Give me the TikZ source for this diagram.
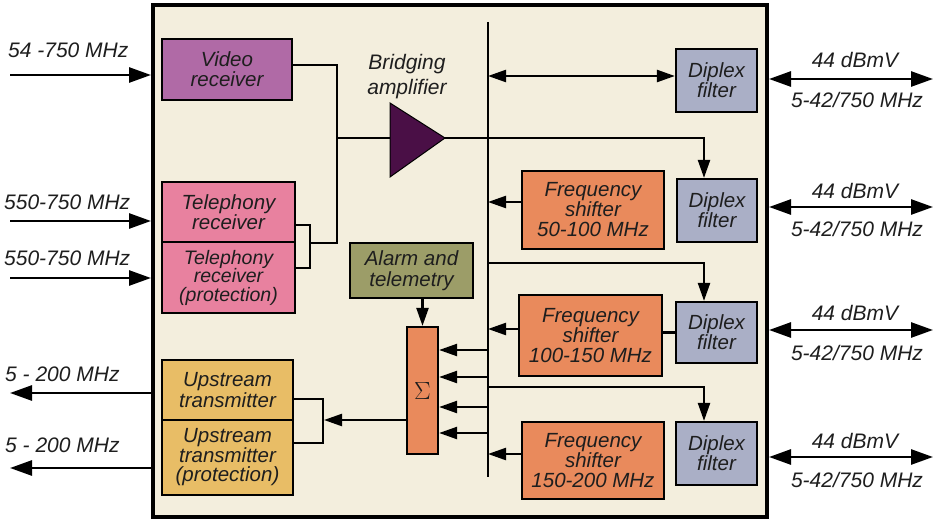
\documentclass[tikz,border=0pt]{standalone}
\usepackage{fontspec}
\setmainfont{Liberation Sans}
\usetikzlibrary{arrows.meta,calc}
\definecolor{cream}{HTML}{F3EEDD}
\definecolor{videoc}{HTML}{B06AA6}
\definecolor{telc}{HTML}{E8819F}
\definecolor{alarmc}{HTML}{9C9D68}
\definecolor{orangec}{HTML}{E98A5C}
\definecolor{upc}{HTML}{E8BD66}
\definecolor{diplexc}{HTML}{AAAFC6}
\definecolor{ampc}{HTML}{4A0F46}
\definecolor{txt}{HTML}{1E1E1E}
\begin{document}
\begin{tikzpicture}[x=1pt,y=-1pt,
  box/.style={draw=black,line width=2.2pt,inner sep=0pt,align=center,text=txt,
    font=\fontsize{20.5}{20}\selectfont\itshape},
  tight/.style={font=\fontsize{19.5}{18.5}\selectfont\itshape},
  lbl/.style={font=\fontsize{21}{21}\selectfont\itshape,text=txt,inner sep=0pt},
  wire/.style={line width=2.3pt},
  arr/.style={wire,-{Triangle[length=18pt,width=12pt]}},
  darr/.style={wire,{Triangle[length=18pt,width=12pt]}-{Triangle[length=18pt,width=12pt]}},
  oarr/.style={line width=2.7pt,-{Triangle[length=22pt,width=15pt]}},
  odarr/.style={line width=2.7pt,{Triangle[length=22pt,width=15pt]}-{Triangle[length=22pt,width=15pt]}}]
\useasboundingbox (0,0) rectangle (935,519);
\fill[white] (0,0) rectangle (935,519);
% frame
\node[draw=black,line width=4pt,fill=cream,minimum width=614pt,minimum height=512pt,inner sep=0pt] (frame) at (460,261) {};
% boxes
\node[box,fill=videoc,minimum width=130pt,minimum height=61pt] (video) at (227,69.5) {Video\\receiver};
\node[box,fill=telc,minimum width=133pt,minimum height=60pt,font=\fontsize{20.5}{19}\selectfont\itshape] (tel1) at (228.5,212) {Telephony\\receiver};
\node[box,tight,fill=telc,minimum width=133pt,minimum height=71pt] (tel2) at (228.5,277.5) {Telephony\\receiver\\(protection)};
\node[box,fill=upc,minimum width=131pt,minimum height=60pt,font=\fontsize{20.5}{18}\selectfont\itshape] (up1) at (227.5,390) {Upstream\\transmitter};
\node[box,fill=upc,minimum width=131pt,minimum height=75pt,font=\fontsize{20.5}{19.5}\selectfont\itshape] (up2) at (227.5,457.5) {Upstream\\transmitter\\(protection)};
\node[box,fill=alarmc,minimum width=123pt,minimum height=55pt,font=\fontsize{20.5}{21}\selectfont\itshape] (alarm) at (411.5,270.5) {Alarm and\\telemetry};
\node[box,fill=orangec,minimum width=31pt,minimum height=127pt,font=\fontsize{24}{24}\selectfont] (sigma) at (422.5,390.5) {$\Sigma$};
\node[box,fill=orangec,minimum width=142pt,minimum height=78pt] (fs1) at (593,210) {Frequency\\shifter\\50-100 MHz};
\node[box,fill=orangec,minimum width=143pt,minimum height=81pt] (fs2) at (590.5,335.5) {Frequency\\shifter\\100-150 MHz};
\node[box,fill=orangec,minimum width=142pt,minimum height=77pt] (fs3) at (593,460.5) {Frequency\\shifter\\150-200 MHz};
\node[box,fill=diplexc,minimum width=81pt,minimum height=63pt] (d1) at (716.5,80.5) {Diplex\\filter};
\node[box,fill=diplexc,minimum width=80pt,minimum height=63pt] (d2) at (717,210.5) {Diplex\\filter};
\node[box,fill=diplexc,minimum width=81pt,minimum height=61pt] (d3) at (716.5,332.5) {Diplex\\filter};
\node[box,fill=diplexc,minimum width=81pt,minimum height=63pt] (d4) at (716.5,453.5) {Diplex\\filter};
% amplifier
\coordinate (ampin) at (390,138);
\coordinate (ampout) at (445,138);
\fill[ampc,draw=black,line width=1pt,line join=miter] (390,103) -- (ampout) -- (390,177) -- cycle;
\node[lbl,align=center,font=\fontsize{21}{25}\selectfont\itshape] (amplbl) at (407,77) {Bridging\\amplifier};
% bus
\coordinate (bustop) at (488,22);
\coordinate (busbot) at (488,477);
\draw[wire] (bustop) -- (busbot);
% video / telephony combining
\coordinate (jv) at (337,65);
\coordinate (jt) at (337,243);
\coordinate (ja) at (337,138);
\draw[wire] ([yshift=4.5pt]video.east) -- (jv) -- (jt) -- (310,243);
\draw[wire] (tel1.east |- 0,225) -- (310,225) -- (310,268) -- (tel2.east |- 0,268);
\draw[wire] (ja) -- (ampin);
\draw[arr] (ampout) -- (704,138) -- (704,0 |- d2.north);
% bus to diplex
\draw[darr] (bustop |- 0,76) -- (d1.west |- 0,76);
\draw[arr] (bustop |- 0,263) -- (704,263) -- (704,0 |- d3.north);
\draw[arr] (bustop |- 0,387) -- (704,387) -- (704,0 |- d4.north);
\draw[wire] (d3.west) -- (fs2.east |- d3.west);
% shifters to bus
\draw[arr] ([yshift=8pt]fs1.west) -- (bustop |- 0,202);
\draw[arr] ([yshift=6.5pt]fs2.west) -- (bustop |- 0,329);
\draw[arr] ([yshift=6.5pt]fs3.west) -- (bustop |- 0,454);
% bus to sigma
\foreach \yy in {350,377,407,433} {\draw[arr] (bustop |- 0,\yy) -- (sigma.east |- 0,\yy);}
\draw[arr] (sigma.north |- alarm.south) -- (sigma.north);
% sigma to upstream
\draw[arr] (sigma.west |- 0,420) -- (324,420);
\draw[wire] (up1.east |- 0,399) -- (323,399) -- (323,443) -- (up2.east |- 0,443);
% external inputs
\coordinate (i1) at (10,75);
\coordinate (i2) at (10,221);
\coordinate (i3) at (10,278);
\draw[oarr] (i1) -- (frame.west |- i1);
\draw[oarr] (i2) -- (frame.west |- i2);
\draw[oarr] (i3) -- (frame.west |- i3);
\node[lbl,anchor=west] (l1) at (8,50) {54 -750 MHz};
\node[lbl,anchor=west] (l2) at (4,202) {550-750 MHz};
\node[lbl,anchor=west] (l3) at (4,258) {550-750 MHz};
% upstream outputs
\coordinate (o1) at (10,393);
\coordinate (o2) at (10,468);
\draw[oarr] (frame.west |- o1) -- (o1);
\draw[oarr] (frame.west |- o2) -- (o2);
\node[lbl,anchor=west] (l4) at (5,374) {5 - 200 MHz};
\node[lbl,anchor=west] (l5) at (5,445) {5 - 200 MHz};
% right side ports
\foreach \nm/\yy/\ya/\yb in {r1/79/60/100, r2/207/191/229, r3/330/313/353, r4/457/441/480} {
  \coordinate (\nm) at (933,\yy);
  \draw[odarr] (frame.east |- \nm) -- (\nm);
  \node[lbl] (\nm a) at (855,\ya) {44 dBmV};
  \node[lbl] (\nm b) at (857,\yb) {5-42/750 MHz};
}
\end{tikzpicture}
\end{document}
